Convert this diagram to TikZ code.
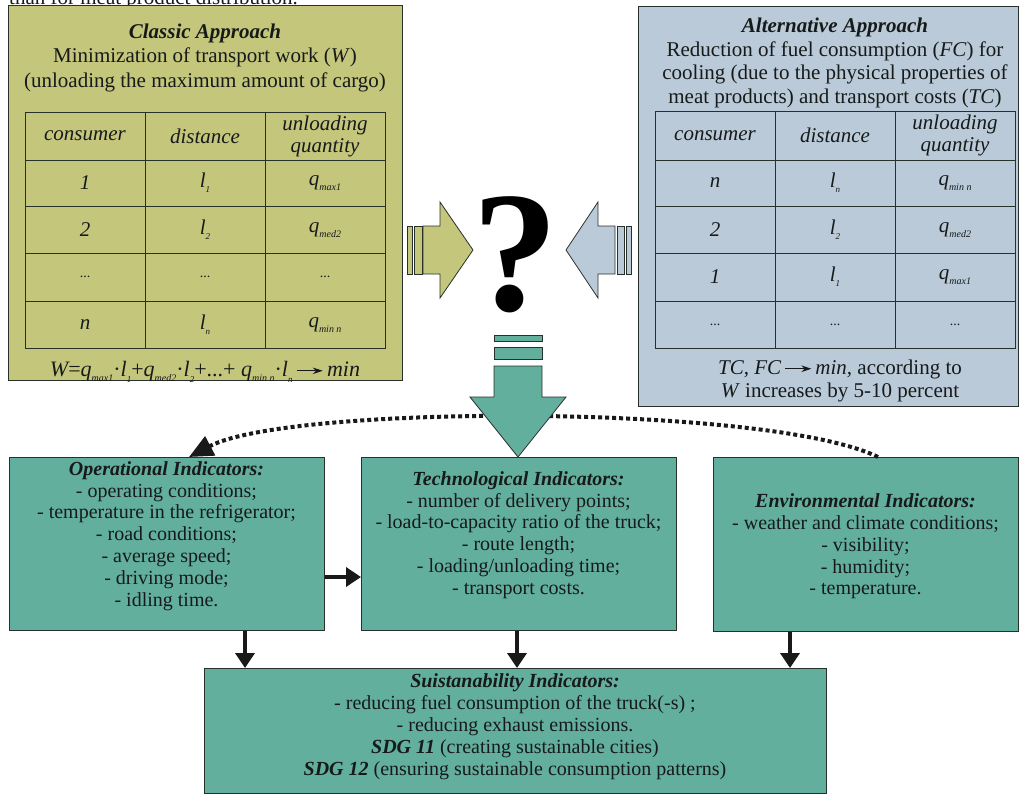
\documentclass[tikz,border=0pt]{standalone}
\usepackage{fontspec}
\setmainfont{Liberation Serif}
\usetikzlibrary{arrows.meta}
\definecolor{olivef}{RGB}{196,198,123}
\definecolor{bluef}{RGB}{186,202,216}
\definecolor{tealf}{RGB}{99,175,157}
\definecolor{edgec}{RGB}{40,48,44}
\definecolor{txtc}{RGB}{22,26,26}
\newcommand{\sbs}[1]{\raisebox{-0.45ex}{\fontsize{10}{10}\selectfont\itshape #1}}
\newcommand{\lsub}[1]{\raisebox{-0.55ex}{\fontsize{9}{9}\selectfont\itshape #1}}
\newcommand{\dts}{{\fontsize{14}{14}\selectfont\upshape ...}}
\newcommand{\minarrow}{\,\tikz[baseline=-0.6ex]\draw[line width=1.1pt,-{Stealth[length=10pt,width=6.5pt]}] (0pt,0pt)--(26pt,0pt);\,}
\begin{document}
\begin{tikzpicture}[x=1pt,y=-1pt,
  box/.style={draw=edgec, line width=0.9pt, anchor=north west, inner sep=0pt},
  tx/.style={font=\fontsize{21}{24.5}\selectfont, text=txtc, align=center, inner sep=0pt},
  cell/.style={font=\fontsize{21}{22}\selectfont\itshape, text=txtc, align=center, inner sep=0pt},
  bt/.style={font=\fontsize{20}{21.8}\selectfont, text=txtc, align=center, inner sep=0pt},
  grid/.style={draw=edgec, line width=1pt},
  fatarrow/.style={draw=edgec, line width=0.8pt},
  blk/.style={draw=black!90, line width=3.6pt, -{Triangle[length=15pt,width=19pt]}},
  dotc/.style={draw=black!90, line width=4pt, dash pattern=on 4pt off 3pt, -{Triangle[length=24pt,width=21pt]}}
]
\useasboundingbox (0,0) rectangle (1020,796);

% cut-off line at the top
\begin{scope}
\clip (0,0) rectangle (1020,796);
\node[anchor=base west, font=\fontsize{21}{24}\selectfont, text=txtc, inner sep=0pt] (toptxt) at (9,4) {than for meat product distribution.};
\end{scope}

% ---------- top boxes ----------
\node[box, fill=olivef, minimum width=394, minimum height=375] (classic) at (8,5) {};
\node[box, fill=bluef, minimum width=380, minimum height=400] (alt) at (638,6) {};

\node[tx] (classictxt) at (205,57.5) {\textbf{\textit{Classic Approach}}\\Minimization of transport work (\textit{W})\\(unloading the maximum amount of cargo)};
\node[tx, font=\fontsize{21}{23.7}\selectfont] (alttxt) at (835,63) {\textbf{\textit{Alternative Approach}}\\Reduction of fuel consumption (\textit{FC}) for\\cooling (due to the physical properties of\\meat products) and transport costs (\textit{TC})};

% left table
\draw[grid] (25,112) rectangle (385,348);
\foreach \yy in {160,206,253,301} \draw[grid] (25,\yy) -- (385,\yy);
\foreach \xx in {145,265} \draw[grid] (\xx,112) -- (\xx,348);
\node[cell] (l11) at (85,136) {consumer};
\node[cell] (l12) at (205,136) {distance};
\node[cell] (l13) at (325,136) {unloading\\quantity};
\node[cell] (l21) at (85,183) {1};
\node[cell] (l22) at (205,183) {l\lsub{1}};
\node[cell] (l23) at (325,183) {q\sbs{max1}};
\node[cell] (l31) at (85,230) {2};
\node[cell] (l32) at (205,230) {l\lsub{2}};
\node[cell] (l33) at (325,230) {q\sbs{med2}};
\node[cell] (l41) at (85,277) {\dts};
\node[cell] (l42) at (205,277) {\dts};
\node[cell] (l43) at (325,277) {\dts};
\node[cell] (l51) at (85,325) {n};
\node[cell] (l52) at (205,325) {l\lsub{n}};
\node[cell] (l53) at (325,325) {q\sbs{min n}};

\node[cell, font=\fontsize{22}{22}\selectfont\itshape] (formula) at (205,372) {W\upshape{=}\itshape q\sbs{max1}\upshape{·}\itshape l\lsub{1}\upshape{+}\itshape q\sbs{med2}\upshape{·}\itshape l\lsub{2}\upshape{+...+ }\itshape q\sbs{min n}\upshape{·}\itshape l\lsub{n}\minarrow min};

% right table
\draw[grid] (655,111) rectangle (1015,348);
\foreach \yy in {160,206,253,301} \draw[grid] (655,\yy) -- (1015,\yy);
\foreach \xx in {775,895} \draw[grid] (\xx,111) -- (\xx,348);
\node[cell] (r11) at (715,135.5) {consumer};
\node[cell] (r12) at (835,135.5) {distance};
\node[cell] (r13) at (955,135.5) {unloading\\quantity};
\node[cell] (r21) at (715,183) {n};
\node[cell] (r22) at (835,183) {l\lsub{n}};
\node[cell] (r23) at (955,183) {q\sbs{min n}};
\node[cell] (r31) at (715,230) {2};
\node[cell] (r32) at (835,230) {l\lsub{2}};
\node[cell] (r33) at (955,230) {q\sbs{med2}};
\node[cell] (r41) at (715,277) {1};
\node[cell] (r42) at (835,277) {l\lsub{1}};
\node[cell] (r43) at (955,277) {q\sbs{max1}};
\node[cell] (r51) at (715,325) {\dts};
\node[cell] (r52) at (835,325) {\dts};
\node[cell] (r53) at (955,325) {\dts};

\node[tx, font=\fontsize{21}{23}\selectfont] (alttxt2) at (840,381) {\textit{TC}, \textit{FC}\minarrow\textit{min,} according to\\\textit{W} increases by 5-10 percent};

% ---------- fat arrows and question mark ----------
\draw[fatarrow, fill=olivef] (407,226) rectangle (412,274);
\draw[fatarrow, fill=olivef] (414,226) rectangle (422,274);
\draw[fatarrow, fill=olivef] (423,226) -- (440,226) -- (440,202) -- (473,250) -- (440,298) -- (440,274) -- (423,274) -- cycle;

\draw[fatarrow, fill=bluef] (626,226) rectangle (631,274);
\draw[fatarrow, fill=bluef] (617,226) rectangle (624,274);
\draw[fatarrow, fill=bluef] (615,226) -- (598,226) -- (598,202) -- (566,250) -- (598,298) -- (598,274) -- (615,274) -- cycle;

\node[anchor=base, inner sep=0pt, font=\fontsize{172}{172}\selectfont\bfseries, text=black] (qm) at (515,310) {?};

% ---------- bottom boxes ----------
\node[box, fill=tealf, minimum width=315, minimum height=173] (op) at (9,457) {};
\node[box, fill=tealf, minimum width=315, minimum height=173] (tech) at (361,457) {};
\node[box, fill=tealf, minimum width=305, minimum height=174] (env) at (713,457) {};
\node[box, fill=tealf, minimum width=622, minimum height=125] (sust) at (204,668) {};

\node[bt] (optxt) at (166.5,536) {\textbf{\textit{Operational Indicators:}}\\- operating conditions;\\- temperature in the refrigerator;\\- road conditions;\\- average speed;\\- driving mode;\\- idling time.};
\node[bt] (techtxt) at (518.5,535) {\textbf{\textit{Technological Indicators:}}\\- number of delivery points;\\- load-to-capacity ratio of the truck;\\- route length;\\- loading/unloading time;\\- transport costs.};
\node[bt] (envtxt) at (865.5,546.5) {\textbf{\textit{Environmental Indicators:}}\\- weather and climate conditions;\\- visibility;\\- humidity;\\- temperature.};
\node[bt, font=\fontsize{20}{22}\selectfont] (susttxt) at (515,727) {\textbf{\textit{Suistanability Indicators:}}\\- reducing fuel consumption of the truck(-s) ;\\- reducing exhaust emissions.\\\textbf{\textit{SDG 11}} (creating sustainable cities)\\\textbf{\textit{SDG 12}} (ensuring sustainable consumption patterns)};

% dotted feedback curve
\coordinate (dstart) at (878,457);
\coordinate (dend) at (189,457);
\draw[dotc] (dstart) .. controls (770,404) and (290,404) .. (dend);

% teal down arrow
\draw[fatarrow, fill=tealf] (494,335) rectangle (542,341);
\draw[fatarrow, fill=tealf] (494,347) rectangle (542,359);
\draw[fatarrow, fill=tealf] (494,366) -- (542,366) -- (542,397) -- (566,397) -- (518,457) -- (470,397) -- (494,397) -- cycle;

% black connectors
\coordinate (c1) at (245,0);
\coordinate (c2) at (517,0);
\coordinate (c3) at (790,0);
\coordinate (c4) at (0,577);
\draw[blk] (c1 |- op.south) -- (c1 |- sust.north);
\draw[blk] (c2 |- tech.south) -- (c2 |- sust.north);
\draw[blk] (c3 |- env.south) -- (c3 |- sust.north);
\draw[blk] (op.east |- c4) -- (tech.west |- c4);
\end{tikzpicture}
\end{document}
